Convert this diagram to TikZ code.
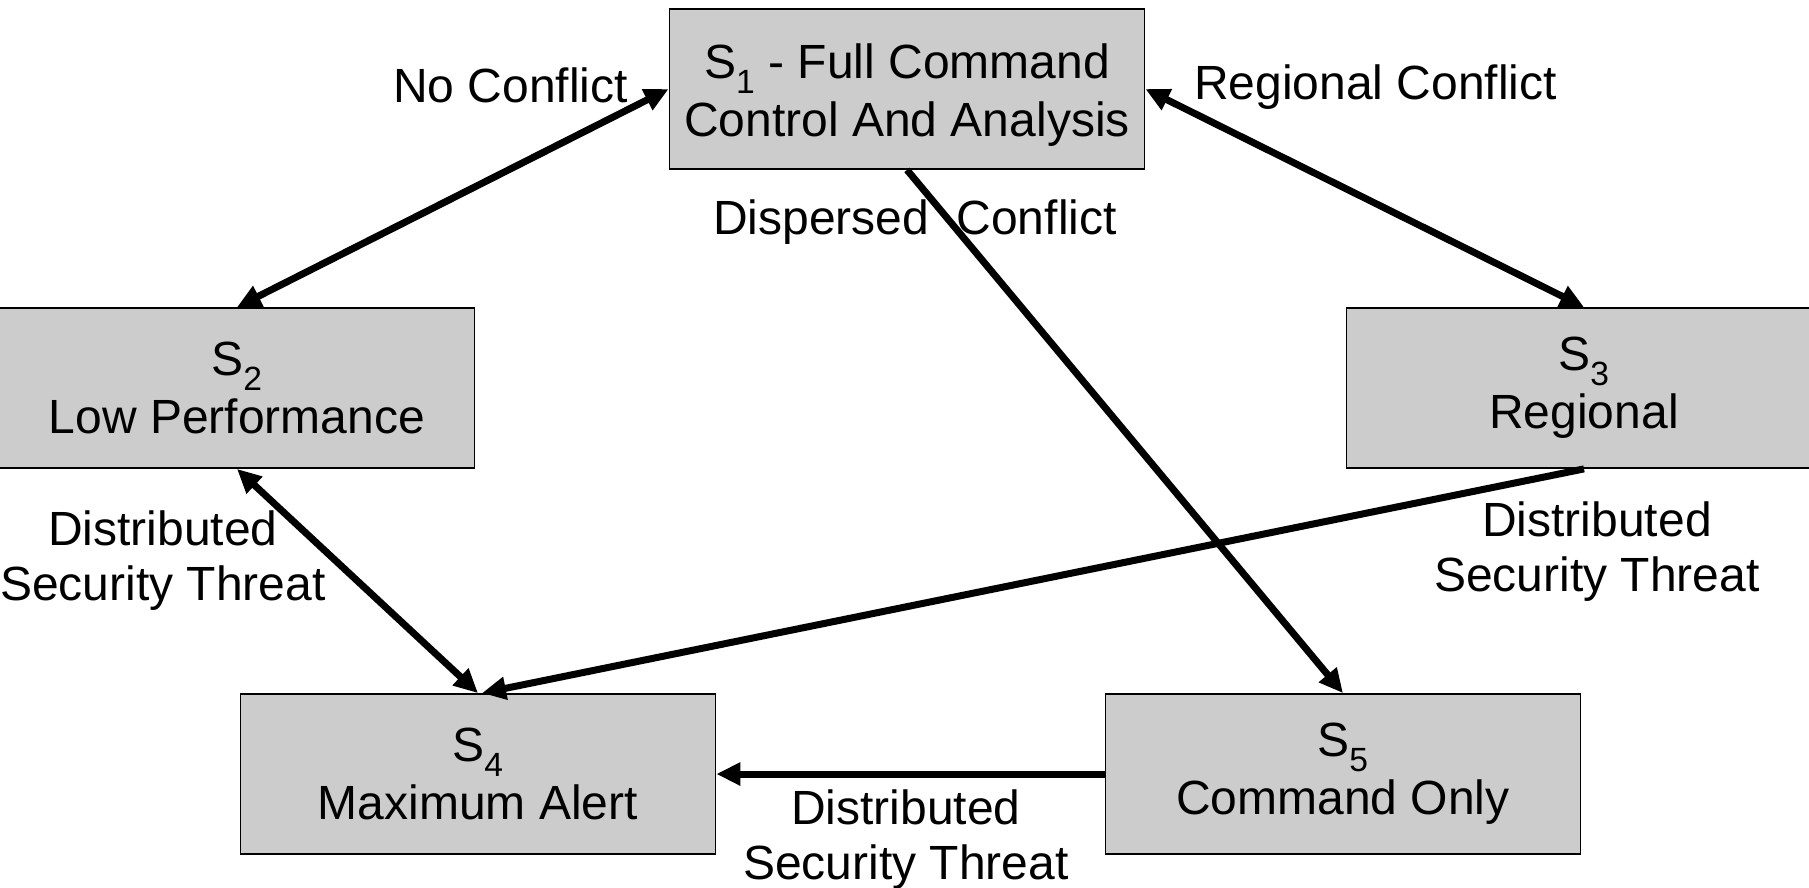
\documentclass[tikz,border=0pt]{standalone}
\usepackage{fontspec}
\setmainfont{Liberation Sans}
\usetikzlibrary{arrows.meta}
\begin{document}
\begin{tikzpicture}[x=1pt,y=-1pt,
  every node/.style={font=\fontsize{48}{55}\selectfont, align=center},
  statebox/.style={draw=black, line width=1.8pt, fill=black!20,
    minimum width=475pt, minimum height=160pt, inner sep=0pt,
    font=\fontsize{48}{58}\selectfont},
  conn/.style={line width=7pt, arrows={-Triangle[length=24pt,width=22pt]}},
  conn2/.style={line width=7pt, arrows={Triangle[length=24pt,width=22pt]-Triangle[length=24pt,width=22pt]}},
  lbl/.style={inner sep=0pt}]
\useasboundingbox (0,0) rectangle (1809,887);

% state boxes
\node[statebox] (S1) at (907,89) {\raisebox{-7pt}[\height][\depth]{\begin{tabular}{@{}c@{}}S\textsubscript{1} - Full Command\\Control And Analysis\end{tabular}}};
\node[statebox] (S2) at (237,388) {S\textsubscript{2}\\Low Performance};
\node[statebox] (S3) at (1584,388) {S\textsubscript{3}\\Regional};
\node[statebox] (S4) at (478,774) {S\textsubscript{4}\\Maximum Alert};
\node[statebox] (S5) at (1343,774) {S\textsubscript{5}\\Command Only};

% transitions
\draw[conn2] (S1.west) -- (S2.north);
\draw[conn2] (S1.east) -- (S3.north);
\draw[conn] (S1.south) -- (S5.north);
\draw[conn2] (S2.south) -- (S4.north);
\draw[conn] (S3.south) -- ([xshift=4pt]S4.north);
\draw[conn] (S5.west) -- (S4.east);

% transition labels
\node[lbl, anchor=east] (lnc) at (628,85) {No Conflict};
\node[lbl, anchor=west] (lrc) at (1194,87) {Regional Conflict};
\node[lbl] (ldc) at (915,222) {Dispersed\hspace{14pt} Conflict};
\node[lbl] (ld2) at (163,561) {Distributed\\Security Threat};
\node[lbl] (ld3) at (1597,552) {Distributed\\Security Threat};
\node[lbl] (ld5) at (906,840) {Distributed\\Security Threat};
\end{tikzpicture}
\end{document}
